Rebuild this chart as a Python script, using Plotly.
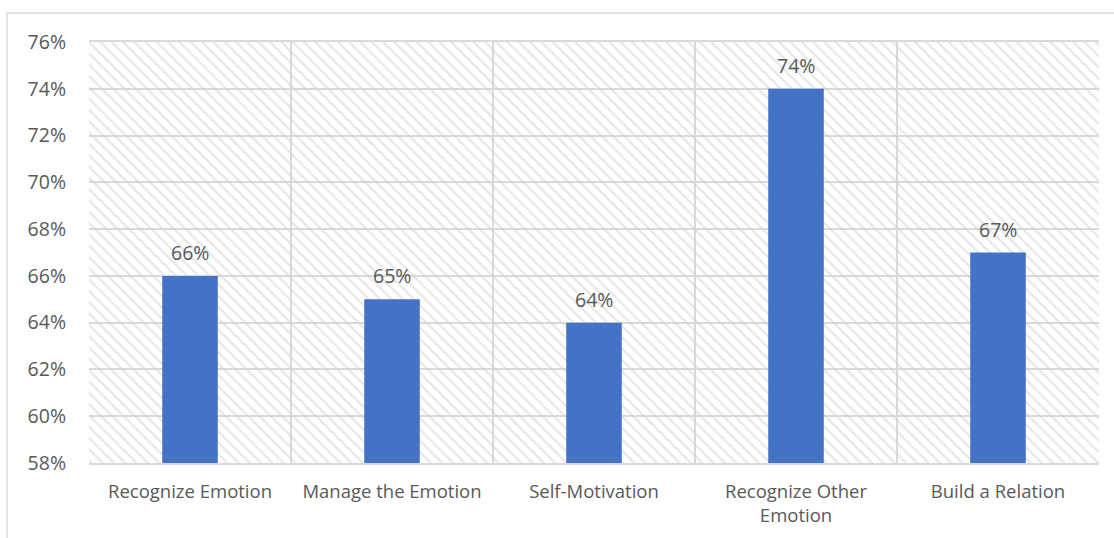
import plotly.graph_objects as go

categories = ["Recognize Emotion", "Manage the Emotion", "Self-Motivation",
              "Recognize Other<br>Emotion", "Build a Relation"]
values = [66, 65, 64, 74, 67]
labels = ["66%", "65%", "64%", "74%", "67%"]
y_min, y_max, y_step = 58, 76, 2
tick_vals = list(range(y_min, y_max + 1, y_step))
tick_text = [f"{v}%" for v in tick_vals]

FONT = "Open Sans"
TXT = "#595959"
GRID = "#d9d9d9"

fig = go.Figure()

# hatched plot background
fig.add_trace(go.Bar(
    x=categories, y=[y_max - y_min] * len(categories), base=[y_min] * len(categories),
    width=1, marker=dict(color="rgba(0,0,0,0)", line=dict(width=0),
                         pattern=dict(shape="\\", size=8, solidity=0.28,
                                      fgcolor="#d0d0d0", bgcolor="rgba(0,0,0,0)")),
    hoverinfo="skip", showlegend=False))

fig.add_trace(go.Bar(
    x=categories, y=[v - y_min for v in values], base=[y_min] * len(values),
    width=0.275, marker=dict(color="#4472C4", line=dict(width=0)),
    hoverinfo="skip", showlegend=False))

annotations = [dict(x=c, y=v, xref="x", yref="y", text=t, showarrow=False,
                    yanchor="bottom", yshift=8,
                    font=dict(family=FONT, size=19.5, color=TXT))
               for c, v, t in zip(categories, values, labels)]

fig.update_layout(
    width=1114, height=538, barmode="overlay",
    margin=dict(l=89, r=15, t=42, b=75),
    paper_bgcolor="white", plot_bgcolor="white",
    font=dict(family=FONT, size=18, color=TXT),
    xaxis=dict(type="category", tickson="boundaries", showgrid=True,
               gridcolor=GRID, gridwidth=1.5, ticks="", showline=True,
               linecolor=GRID, linewidth=1.5, mirror=True,
               tickfont=dict(family=FONT, size=18.5, color=TXT),
               ticklabelstandoff=11),
    yaxis=dict(range=[y_min, y_max], tickvals=tick_vals, ticktext=tick_text,
               showgrid=True, gridcolor=GRID, gridwidth=1.5, ticks="",
               showline=False, zeroline=False,
               tickfont=dict(family=FONT, size=19.5, color=TXT),
               ticklabelstandoff=22),
    annotations=annotations,
    shapes=[dict(type="rect", xref="paper", yref="paper",
                 x0=(7 - 89) / 1010, x1=(1130 - 89) / 1010,
                 y0=(463 - 560) / 421, y1=(463 - 13) / 421,
                 line=dict(color=GRID, width=1.5), fillcolor="rgba(0,0,0,0)",
                 layer="below")],
)

fig.write_html("out.html")
